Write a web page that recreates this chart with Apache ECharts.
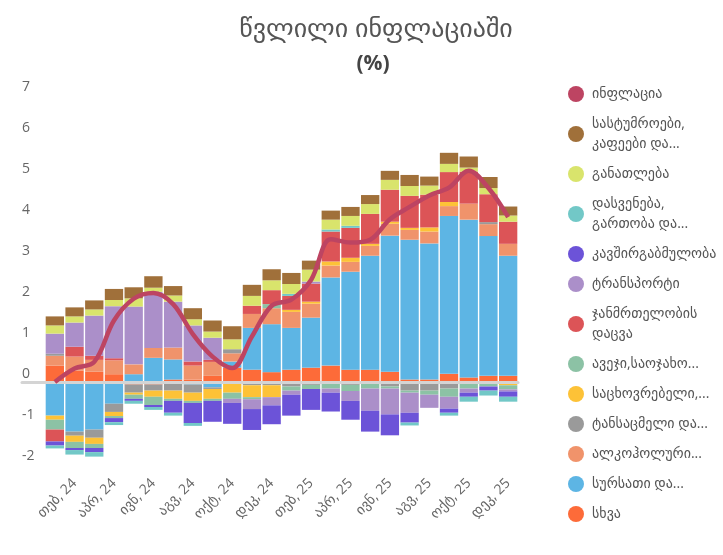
<!DOCTYPE html>
<html>
<head>
<meta charset="utf-8">
<script src="https://cdn.jsdelivr.net/npm/echarts@6/dist/echarts.min.js"></script>
<style>html,body{margin:0;padding:0;background:#fff}#c{width:723px;height:555px}</style>
</head>
<body>
<div id="c"></div>
<script>
const categories = ['იან, 24','თებ, 24','მარ, 24','აპრ, 24','მაი, 24','ივნ, 24','ივლ, 24','აგვ, 24','სექ, 24','ოქტ, 24','ნოე, 24','დეკ, 24',
  'იან, 25','თებ, 25','მარ, 25','აპრ, 25','მაი, 25','ივნ, 25','ივლ, 25','აგვ, 25','სექ, 25','ოქტ, 25','ნოე, 25','დეკ, 25'];
const yTicks = [-2, -1, 0, 1, 2, 3, 4, 5, 6, 7];

const other = [0.40,0.28,0.25,0.19,-0.06,-0.06,0.06,0.06,0.15,0.35,0.30,0.24,0.30,0.35,0.40,0.30,0.30,0.25,0.06,0.06,0.20,0.11,0.15,0.15];
const food = [-0.82,-1.21,-1.16,-0.53,0.19,0.59,0.49,-0.06,-0.13,0.15,1.02,1.17,1.02,1.22,2.15,2.39,2.78,3.32,3.41,3.32,3.85,3.85,3.41,2.93];
const alcohol = [0.24,0.34,0.29,0.34,0.24,0.24,0.29,0.34,0.34,0.20,0.34,0.39,0.39,0.34,0.29,0.24,0.24,0.29,0.24,0.29,0.24,0.39,0.29,0.29];
const clothing = [0.05,-0.10,-0.20,-0.20,-0.20,-0.15,-0.21,-0.20,-0.04,0.10,-0.08,-0.08,-0.11,-0.07,0,-0.07,0,-0.11,-0.21,-0.21,-0.16,0,0.05,0];
const housing = [-0.10,-0.15,-0.15,-0.10,-0.05,-0.15,-0.20,-0.20,-0.24,-0.26,-0.29,-0.29,0.05,0.05,0.10,0.10,0.05,0.05,0.05,0.10,0.10,0,0,-0.08];
const furnishing = [-0.24,-0.15,-0.10,-0.05,-0.10,-0.20,-0.05,-0.05,-0.05,-0.15,-0.05,0.10,-0.10,-0.10,-0.16,-0.15,-0.16,-0.05,-0.05,-0.10,-0.20,-0.16,-0.11,-0.10];
const health = [-0.29,0.24,0.10,0.05,0,0,0,0.10,0.05,0,0.20,0.34,0.34,0.44,0.73,0.73,0.73,0.78,0.78,0.80,0.73,0.78,0.68,0.54];
const transport = [0.49,0.59,0.98,1.27,1.41,1.37,1.12,0.88,0.54,-0.10,-0.24,-0.20,-0.10,0.05,-0.10,-0.24,-0.54,-0.63,-0.49,-0.32,-0.29,-0.10,0,-0.05];
const communication = [-0.10,-0.05,-0.10,-0.10,-0.05,-0.05,-0.29,-0.49,-0.51,-0.51,-0.51,-0.46,-0.51,-0.51,-0.46,-0.46,-0.51,-0.51,-0.24,0,-0.10,-0.10,-0.10,-0.13];
const recreation = [-0.07,-0.11,-0.11,-0.07,-0.07,-0.07,-0.07,-0.07,0,0,0,0,0.05,0,0.05,0.05,0,0,-0.07,0,-0.07,-0.12,-0.12,-0.12];
const education = [0.20,0.15,0.15,0.15,0.20,0.10,0.15,0.15,0.15,0.24,0.24,0.24,0.24,0.29,0.24,0.24,0.24,0.24,0.24,0.22,0.20,0.10,0.15,0.15];
const hotels = [0.22,0.22,0.22,0.27,0.27,0.28,0.23,0.27,0.27,0.32,0.27,0.27,0.27,0.22,0.22,0.22,0.22,0.22,0.27,0.22,0.27,0.27,0.27,0.22];
const inflation = [0.0,0.33,0.49,1.5,2.03,2.17,1.9,1.17,0.62,0.34,1.11,1.86,2.01,2.49,3.48,3.4,3.47,3.97,4.27,4.55,4.74,5.15,4.73,4.02];

// stacking order bottom -> top
const barSeries = [
  {name:'სხვა', data: other, color:'#fd6b39'},
  {name:'სურსათი და...', data: food, color:'#5db5e4'},
  {name:'ალკოჰოლური...', data: alcohol, color:'#f0936b'},
  {name:'ტანსაცმელი და...', data: clothing, color:'#9a9a9a'},
  {name:'საცხოვრებელი,...', data: housing, color:'#fdc237'},
  {name:'ავეჯი,საოჯახო...', data: furnishing, color:'#8cc2a5'},
  {name:'ჯანმრთელობის\nდაცვა', data: health, color:'#dc5457'},
  {name:'ტრანსპორტი', data: transport, color:'#ab8fc9'},
  {name:'კავშირგაბმულობა', data: communication, color:'#6c53d8'},
  {name:'დასვენება,\nგართობა და...', data: recreation, color:'#72c8c7'},
  {name:'განათლება', data: education, color:'#d9e46c'},
  {name:'სასტუმროები,\nკაფეები და...', data: hotels, color:'#a0703a'}
];
const lineName = 'ინფლაცია';

const FONT = "'Open Sans', 'DejaVu Sans', sans-serif";
const chart = echarts.init(document.getElementById('c'), null, {renderer:'canvas'});

const series = barSeries.map(s => ({
  name: s.name, type: 'bar', stack: 'total', data: s.data,
  itemStyle: {color: s.color}, barCategoryGap: '7%',
  xAxisIndex: 0, yAxisIndex: 0
}));
series.push({
  name: lineName, type: 'line', data: inflation, smooth: 0.35, symbol: 'none',
  lineStyle: {width: 4.5, color: '#bd4462'}, itemStyle: {color: '#bd4462'},
  z: 10, xAxisIndex: 0, yAxisIndex: 0
});

chart.setOption({
  animation: false,
  title: [
    {text: 'წვლილი ინფლაციაში', left: 371, top: 12, textAlign: 'center',
     textStyle: {fontSize: 26, fontWeight: 'normal', color: '#555', fontFamily: FONT}},
    {text: '(%)', left: 368, top: 49, textAlign: 'center',
     textStyle: {fontSize: 21, fontWeight: 'bold', color: '#444', fontFamily: FONT}}
  ],
  legend: {
    orient: 'vertical', left: 568, top: 84, icon: 'circle', padding: 0,
    itemWidth: 16, itemHeight: 16, itemGap: 10,
    data: [lineName].concat(barSeries.map(s => s.name).reverse()),
    textStyle: {fontSize: 14, lineHeight: 20, color: '#555', fontFamily: FONT, padding: [0,0,0,3]}
  },
  grid: [
    {left: 45, width: 473, top: 95, bottom: 91},
    {left: 22, width: 496, top: 95, bottom: 91}
  ],
  xAxis: [
    {type: 'category', data: categories, gridIndex: 0,
     axisLine: {show: false}, axisTick: {show: false},
     axisLabel: {interval: (i) => i % 2 === 1, rotate: 45, margin: 17, fontSize: 14, color: '#666', fontFamily: FONT}},
    {type: 'value', gridIndex: 1, min: 0, max: 1, z: 5,
     axisLabel: {show: false}, axisTick: {show: false}, splitLine: {show: false},
     axisLine: {show: true, onZero: true, lineStyle: {color: '#d4d4d4', width: 3}}}
  ],
  yAxis: [
    {type: 'value', gridIndex: 0, min: yTicks[0], max: yTicks[yTicks.length-1], interval: 1,
     splitLine: {show: false}, axisLine: {show: false}, axisTick: {show: false},
     axisLabel: {align: 'left', margin: 23, fontSize: 14, color: '#666', fontFamily: FONT,
                 verticalAlign: 'bottom', lineHeight: 16}},
    {type: 'value', gridIndex: 1, min: yTicks[0], max: yTicks[yTicks.length-1], show: false}
  ],
  series: series
});
</script>
</body>
</html>
